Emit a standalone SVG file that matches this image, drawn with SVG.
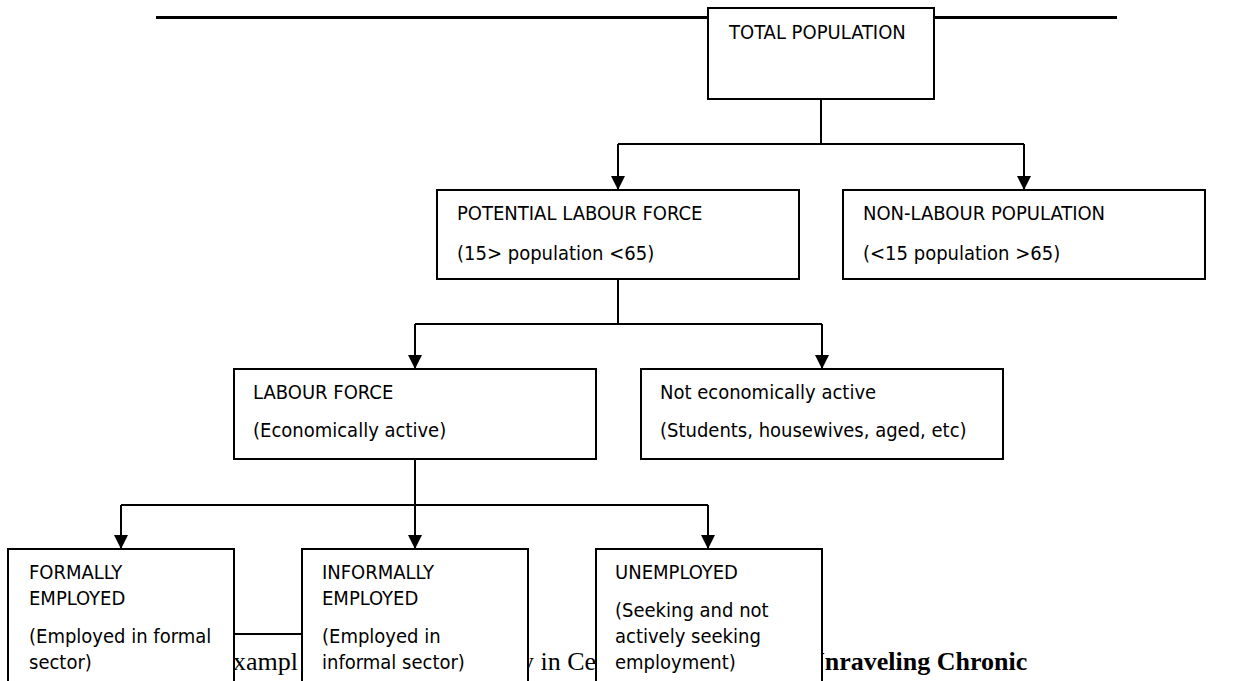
<svg xmlns="http://www.w3.org/2000/svg" width="1249" height="681" viewBox="0 0 1249 681">
  <defs>
    <marker id="arrow" markerUnits="userSpaceOnUse" markerWidth="14" markerHeight="14" refX="14" refY="7" orient="auto">
      <path d="M0,0 L14,7 L0,14 z" fill="#000"/>
    </marker>
    <style>
      .box { fill: #fff; stroke: #000; stroke-width: 2; }
      .lbl { font-family: 'DejaVu Sans Condensed', 'DejaVu Sans', sans-serif; font-stretch: condensed; font-size: 20px; fill: #000; }
      .conn { fill: none; stroke: #000; stroke-width: 2; }
      .body { font-family: 'Liberation Serif', serif; font-size: 26px; fill: #000; }
      .bold { font-family: 'Liberation Serif', serif; font-size: 26px; font-weight: bold; fill: #000; }
    </style>
  </defs>
  <rect width="1249" height="681" fill="#fff"/>

  <!-- page rule and running text behind the chart -->
  <g id="page">
    <line x1="156" y1="17.5" x2="1117" y2="17.5" stroke="#000" stroke-width="3"/>
    <line x1="234" y1="634" x2="302" y2="634" stroke="#000" stroke-width="2"/>
    <text class="body" x="233" y="670">xampl</text>
    <text class="body" x="521" y="670">y in Ce</text>
    <text class="bold" x="806" y="670">Unraveling Chronic</text>
  </g>

  <!-- connectors -->
  <g id="connectors">
    <path class="conn" d="M821,99 V144 M618,144 H1024"/>
    <line class="conn" x1="618" y1="144" x2="618" y2="190" marker-end="url(#arrow)"/>
    <line class="conn" x1="1024" y1="144" x2="1024" y2="190" marker-end="url(#arrow)"/>
    <path class="conn" d="M618,279 V324 M415,324 H822"/>
    <line class="conn" x1="415" y1="324" x2="415" y2="369" marker-end="url(#arrow)"/>
    <line class="conn" x1="822" y1="324" x2="822" y2="369" marker-end="url(#arrow)"/>
    <path class="conn" d="M415,459 V505 M121,505 H708"/>
    <line class="conn" x1="121" y1="505" x2="121" y2="549" marker-end="url(#arrow)"/>
    <line class="conn" x1="415" y1="505" x2="415" y2="549" marker-end="url(#arrow)"/>
    <line class="conn" x1="708" y1="505" x2="708" y2="549" marker-end="url(#arrow)"/>
  </g>

  <g id="total-population">
    <rect class="box" x="708" y="8" width="226" height="91"/>
    <text class="lbl" x="729" y="39">TOTAL POPULATION</text>
  </g>

  <g id="potential-labour-force">
    <rect class="box" x="437" y="190" width="362" height="89"/>
    <text class="lbl" x="457" y="220">POTENTIAL LABOUR FORCE</text>
    <text class="lbl" x="457" y="260">(15&gt; population &lt;65)</text>
  </g>

  <g id="non-labour-population">
    <rect class="box" x="843" y="190" width="362" height="89"/>
    <text class="lbl" x="863" y="220">NON-LABOUR POPULATION</text>
    <text class="lbl" x="863" y="260">(&lt;15 population &gt;65)</text>
  </g>

  <g id="labour-force">
    <rect class="box" x="234" y="369" width="362" height="90"/>
    <text class="lbl" x="253" y="399">LABOUR FORCE</text>
    <text class="lbl" x="253" y="437">(Economically active)</text>
  </g>

  <g id="not-economically-active">
    <rect class="box" x="641" y="369" width="362" height="90"/>
    <text class="lbl" x="660" y="399">Not economically active</text>
    <text class="lbl" x="660" y="437">(Students, housewives, aged, etc)</text>
  </g>

  <g id="formally-employed">
    <rect class="box" x="8" y="549" width="226" height="150"/>
    <text class="lbl" x="29" y="579">FORMALLY</text>
    <text class="lbl" x="29" y="605">EMPLOYED</text>
    <text class="lbl" x="29" y="643">(Employed in formal</text>
    <text class="lbl" x="29" y="669">sector)</text>
  </g>

  <g id="informally-employed">
    <rect class="box" x="302" y="549" width="226" height="150"/>
    <text class="lbl" x="322" y="579">INFORMALLY</text>
    <text class="lbl" x="322" y="605">EMPLOYED</text>
    <text class="lbl" x="322" y="643">(Employed in</text>
    <text class="lbl" x="322" y="669">informal sector)</text>
  </g>

  <g id="unemployed">
    <rect class="box" x="596" y="549" width="226" height="150"/>
    <text class="lbl" x="615" y="579">UNEMPLOYED</text>
    <text class="lbl" x="615" y="617">(Seeking and not</text>
    <text class="lbl" x="615" y="643">actively seeking</text>
    <text class="lbl" x="615" y="669">employment)</text>
  </g>
</svg>
